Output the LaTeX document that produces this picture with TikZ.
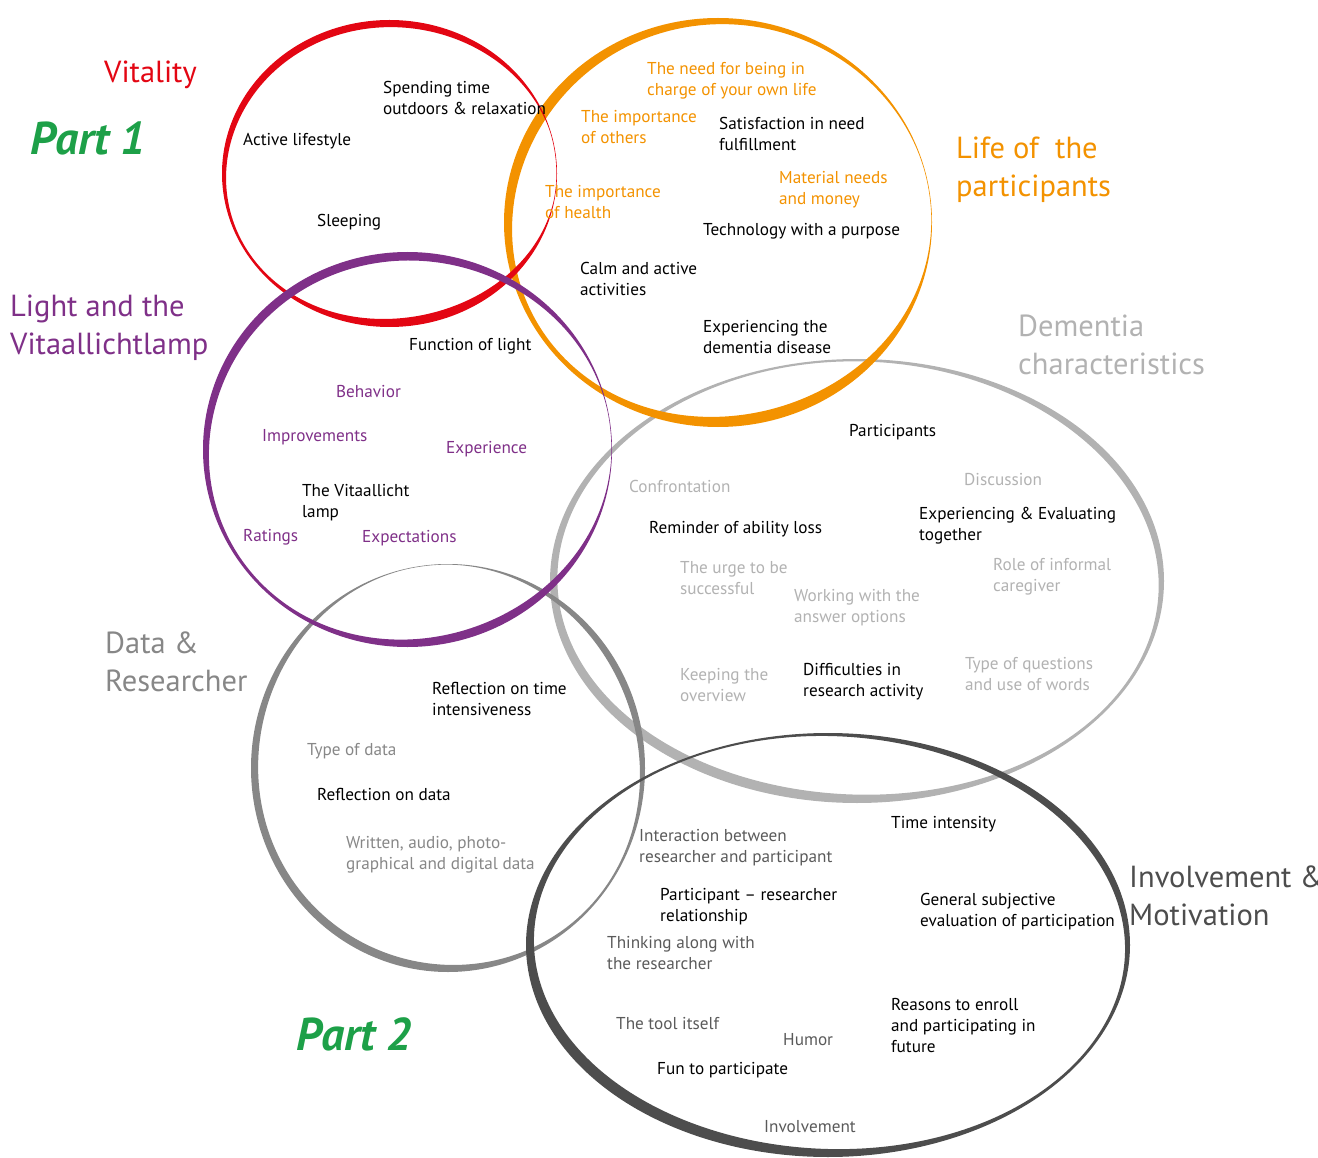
\documentclass[tikz,border=0pt]{standalone}
\usepackage{fontspec}
\setmainfont{PT Sans}
\definecolor{cred}{HTML}{E30613}
\definecolor{corange}{HTML}{F39200}
\definecolor{cpurple}{HTML}{7F3088}
\definecolor{clgrey}{HTML}{B2B2B2}
\definecolor{cmgrey}{HTML}{878787}
\definecolor{cdgrey}{HTML}{4D4D4D}
\definecolor{cdtext}{HTML}{5A5A5A}
\definecolor{cgreen}{HTML}{1DA048}
\def\tpparse#1,#2,#3,#4,#5,#6,#7,#8\relax{%
  \def\tpA{#1}\def\tpB{#2}\def\tpC{#3}\def\tpD{#4}%
  \def\tpE{#5}\def\tpF{#6}\def\tpG{#7}\def\tpH{#8}}
\newcommand\taper[6]{%
  \tpparse#6\relax
  \pgfmathsetmacro\cfA{(\tpA+\tpB+\tpC+\tpD+\tpE+\tpF+\tpG+\tpH)/8}%
  \pgfmathsetmacro\cfB{(\tpA-\tpE+0.7071*(\tpB-\tpD-\tpF+\tpH))/4}%
  \pgfmathsetmacro\cfC{(\tpC-\tpG+0.7071*(\tpB+\tpD-\tpF-\tpH))/4}%
  \pgfmathsetmacro\cfD{(\tpA-\tpC+\tpE-\tpG)/4}%
  \pgfmathsetmacro\cfE{(\tpB-\tpD+\tpF-\tpH)/4}%
  \pgfmathsetmacro\cfF{(\tpA-\tpE+0.7071*(-\tpB+\tpD+\tpF-\tpH))/4}%
  \pgfmathsetmacro\cfG{(0.7071*(\tpB+\tpD-\tpF-\tpH)-\tpC+\tpG)/4}%
  \fill[#5, even odd rule]
    plot[domain=0:360, samples=361, variable=\t]
      ({#1+#3*cos(\t)}, {#2+#4*sin(\t)}) -- cycle
    plot[domain=0:360, samples=361, variable=\t]
      ({#1+(#3-max(0.6,\cfA+\cfB*cos(\t)+\cfC*sin(\t)+\cfD*cos(2*\t)+\cfE*sin(2*\t)+\cfF*cos(3*\t)+\cfG*sin(3*\t)))*cos(\t)},
       {#2+(#4-max(0.6,\cfA+\cfB*cos(\t)+\cfC*sin(\t)+\cfD*cos(2*\t)+\cfE*sin(2*\t)+\cfF*cos(3*\t)+\cfG*sin(3*\t)))*sin(\t)}) -- cycle;}
\tikzset{
  lbl/.style={anchor=base west, inner sep=0pt, align=left, font=\fontsize{17.2}{21}\selectfont},
  ttl/.style={anchor=base west, inner sep=0pt, align=left, font=\fontsize{30.5}{38}\selectfont},
  partlbl/.style={anchor=base west, inner sep=0pt, font=\fontsize{46}{50}\selectfont\bfseries\itshape, text=cgreen},
}
\begin{document}
\begin{tikzpicture}[x=1pt, y=-1pt]
\useasboundingbox (0,0) rectangle (1318,1158);
% ellipses
\taper{857}{581}{307}{222}{clgrey}{7,1.5,10,8,9,2.5,4,5}
\taper{448}{768}{197}{204}{cmgrey}{6,1.5,8,7,8,3,1.5,5}
\taper{828}{945}{302}{212}{cdgrey}{6,2,9,10,9,2,4,6}
\taper{718}{222.5}{214}{204.5}{corange}{1.5,7,11,4,9,9,7,2}
\taper{389.5}{173.5}{167.5}{153.5}{cred}{1,5,9,2,5,6,8,3}
\taper{407.5}{449.5}{204.5}{197.5}{cpurple}{1,6,8,2.5,6.5,8,9,4}
% titles (base anchor = last line)
\node[ttl, text=cred] (tvit) at (104,83) {Vitality};
\node[partlbl] (tp1) at (30,155) {Part 1};
\node[ttl, text=corange] (tlife) at (956,197) {Life of~ the\\participants};
\node[ttl, text=cpurple] (tlight) at (10,355) {Light and the\\Vitaallichtlamp};
\node[ttl, text=clgrey] (tdem) at (1018,375) {Dementia\\characteristics};
\node[ttl, text=cmgrey] (tdata) at (105,691) {Data \&\\Researcher};
\node[ttl, text=cdgrey] (tinv) at (1129,925) {Involvement \&\\Motivation};
\node[partlbl] (tp2) at (296,1050) {Part 2};
% red
\node[lbl] (r1) at (383,115) {Spending time\\outdoors \& relaxation};
\node[lbl] (r2) at (243,146) {Active lifestyle};
\node[lbl] (r3) at (317,227) {Sleeping};
% orange
\node[lbl, text=corange] (o1) at (647,96) {The need for being in\\charge of your own life};
\node[lbl, text=corange] (o2) at (581,144) {The importance\\of others};
\node[lbl] (o3) at (719,151) {Satisfaction in need\\fulfillment};
\node[lbl, text=corange] (o4) at (545,219) {The importance\\of health};
\node[lbl, text=corange] (o5) at (779,205) {Material needs\\and money};
\node[lbl] (o6) at (703,236) {Technology with a purpose};
\node[lbl] (o7) at (580,296) {Calm and active\\activities};
\node[lbl] (o8) at (703,354) {Experiencing the\\dementia disease};
% purple
\node[lbl] (p1) at (409,351) {Function of light};
\node[lbl, text=cpurple] (p2) at (336,398) {Behavior};
\node[lbl, text=cpurple] (p3) at (262,442) {Improvements};
\node[lbl, text=cpurple] (p4) at (446,453) {Experience};
\node[lbl] (p5) at (302,517) {The Vitaallicht\\lamp};
\node[lbl, text=cpurple] (p6) at (243,541) {Ratings};
\node[lbl, text=cpurple] (p7) at (362,542) {Expectations};
% dementia
\node[lbl] (d1) at (849,436) {Participants};
\node[lbl, text=clgrey] (d2) at (629,492) {Confrontation};
\node[lbl, text=clgrey] (d3) at (964,485) {Discussion};
\node[lbl] (d4) at (649,533) {Reminder of ability loss};
\node[lbl] (d5) at (919,540) {Experiencing \& Evaluating\\together};
\node[lbl, text=clgrey] (d6) at (680,594) {The urge to be\\successful};
\node[lbl, text=clgrey] (d7) at (993,591) {Role of informal\\caregiver};
\node[lbl, text=clgrey] (d8) at (794,622) {Working with the\\answer options};
\node[lbl, text=clgrey] (d9) at (680,701) {Keeping the\\overview};
\node[lbl] (d10) at (803,696) {Difficulties in\\research activity};
\node[lbl, text=clgrey] (d11) at (965,690) {Type of questions\\and use of words};
% data
\node[lbl] (a1) at (432,715) {Reflection on time\\intensiveness};
\node[lbl, text=cmgrey] (a2) at (307,755) {Type of data};
\node[lbl] (a3) at (317,800) {Reflection on data};
\node[lbl, text=cmgrey] (a4) at (346,869) {Written, audio, photo-\\graphical and digital data};
% involvement
\node[lbl, text=cdtext] (i1) at (639,862) {Interaction between\\researcher and participant};
\node[lbl] (i2) at (891,828) {Time intensity};
\node[lbl] (i3) at (660,921) {Participant – researcher\\relationship};
\node[lbl] (i4) at (920,926) {General subjective\\evaluation of participation};
\node[lbl, text=cdtext] (i5) at (607,969) {Thinking along with\\the researcher};
\node[lbl] (i6) at (891,1052) {Reasons to enroll\\and participating in\\future};
\node[lbl, text=cdtext] (i7) at (616,1029) {The tool itself};
\node[lbl, text=cdtext] (i8) at (783,1045) {Humor};
\node[lbl] (i9) at (657,1074) {Fun to participate};
\node[lbl, text=cdtext] (i10) at (764,1132) {Involvement};
\end{tikzpicture}
\end{document}
